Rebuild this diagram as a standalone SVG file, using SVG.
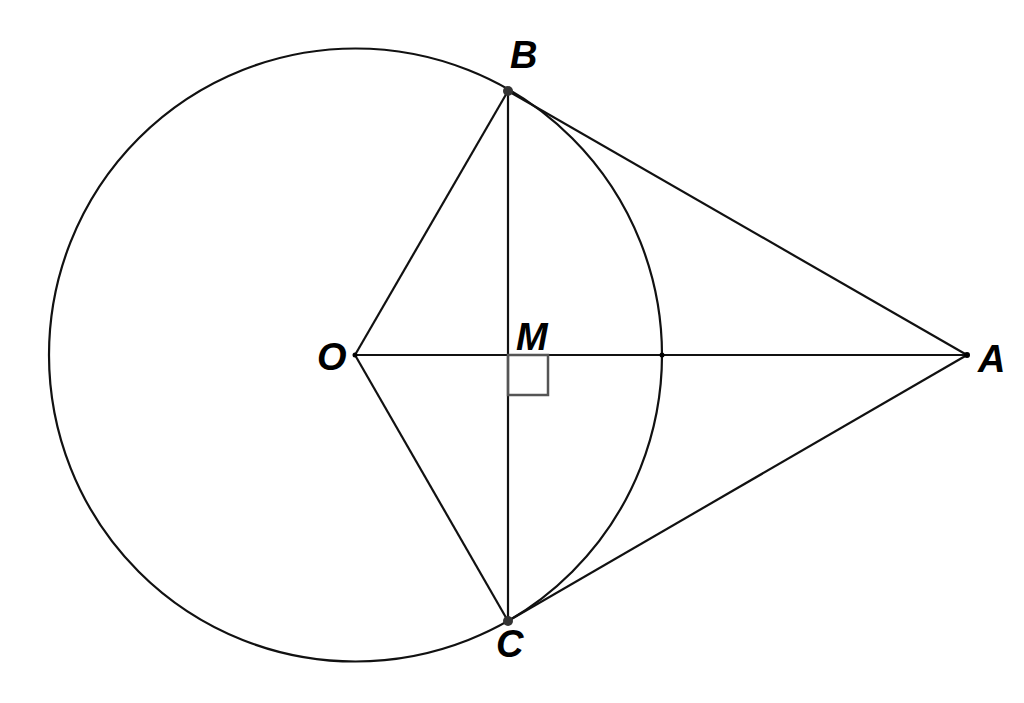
<svg xmlns="http://www.w3.org/2000/svg" width="1024" height="703" viewBox="0 0 1024 703">
<style>
.ln{stroke:#111;stroke-width:2.2;fill:none}
.lb{font-family:"Liberation Sans",Arial,sans-serif;font-weight:bold;font-style:italic;font-size:38px;fill:#000}
</style>
<rect width="1024" height="703" fill="#fff"/>
<g id="connectors">
<circle class="ln" cx="355.5" cy="355" r="306.5"/>
<line class="ln" x1="355" y1="355" x2="967" y2="355"/>
<line class="ln" x1="508" y1="91" x2="508" y2="621"/>
<line class="ln" x1="355" y1="355" x2="508" y2="91"/>
<line class="ln" x1="355" y1="355" x2="508" y2="621"/>
<line class="ln" x1="508" y1="91" x2="967" y2="355"/>
<line class="ln" x1="508" y1="621" x2="967" y2="355"/>
<rect x="508" y="355" width="40" height="40" fill="none" stroke="#555" stroke-width="2.5"/>
</g>
<g id="B"><circle cx="508" cy="91" r="5" fill="#333"/><text class="lb" x="510" y="68">B</text></g>
<g id="C"><circle cx="508" cy="621" r="5" fill="#333"/><text class="lb" x="496" y="657">C</text></g>
<g id="O"><circle cx="355" cy="355" r="2.5" fill="#000"/><text class="lb" x="317" y="370">O</text></g>
<g id="M"><text class="lb" x="516" y="350">M</text></g>
<g id="A"><circle cx="967" cy="355" r="3" fill="#000"/><text class="lb" x="978" y="372">A</text></g>
<g id="P"><circle cx="662" cy="355" r="2.5" fill="#000"/></g>
</svg>
